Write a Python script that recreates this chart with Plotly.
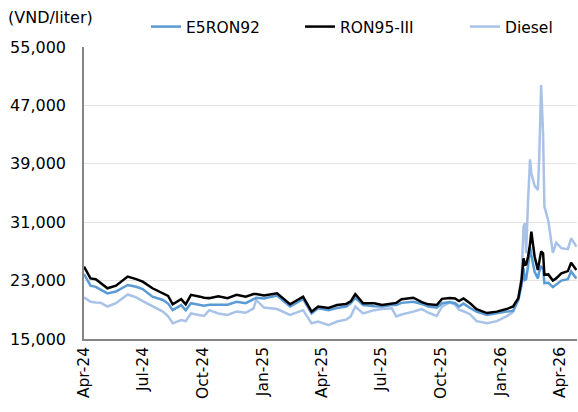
import plotly.graph_objects as go

dates = [
    "2024-04-01", "2024-04-11", "2024-04-19", "2024-04-27", "2024-05-07", "2024-05-20",
    "2024-06-07", "2024-06-20", "2024-06-30", "2024-07-15", "2024-07-31", "2024-08-08",
    "2024-08-15", "2024-08-28", "2024-09-04", "2024-09-12", "2024-09-26", "2024-10-02",
    "2024-10-10", "2024-10-24", "2024-11-07", "2024-11-21", "2024-12-05", "2024-12-17",
    "2024-12-21", "2025-01-02", "2025-01-22", "2025-02-11", "2025-03-03", "2025-03-16",
    "2025-03-26", "2025-04-11", "2025-04-24", "2025-05-08", "2025-05-15", "2025-05-22",
    "2025-06-03", "2025-06-20", "2025-07-02", "2025-07-17", "2025-07-24", "2025-08-01",
    "2025-08-19", "2025-09-01", "2025-09-11", "2025-09-24", "2025-10-02", "2025-10-14",
    "2025-10-22", "2025-10-28", "2025-11-04", "2025-11-14", "2025-11-24", "2025-12-10",
    "2025-12-25", "2026-01-09", "2026-01-19", "2026-01-27", "2026-02-01", "2026-02-04",
    "2026-02-06", "2026-02-08", "2026-02-11", "2026-02-14", "2026-02-16", "2026-02-21",
    "2026-02-26", "2026-02-28", "2026-03-03", "2026-03-06", "2026-03-08", "2026-03-14",
    "2026-03-21", "2026-03-26", "2026-04-03", "2026-04-13", "2026-04-18", "2026-04-26",
]

ron95 = [
    24900, 23300, 23200, 22650, 21950, 22300, 23550, 23200, 22850, 21950, 21300, 20900,
    19750, 20450, 19750, 21050, 20800, 20650, 20600, 20850, 20600, 21050, 20800, 21150,
    21150, 20950, 21250, 19750, 20800, 18750, 19450, 19250, 19650, 19800, 20150, 21150,
    19900, 19900, 19650, 19900, 19950, 20450, 20650, 20050, 19750, 19650, 20500, 20600,
    20550, 20200, 20550, 19900, 19100, 18550, 18750, 19100, 19450, 20600, 23100, 26050,
    25150, 25200, 26300, 28000, 29700, 26300, 24450, 25500, 27000, 26750, 23800, 23850,
    23000, 23300, 24000, 24300, 25450, 24450,
]

e5ron92 = [
    23900, 22300, 22150, 21750, 21250, 21500, 22400, 22150, 21850, 20800, 20350, 19850,
    18950, 19650, 18950, 19900, 19650, 19550, 19700, 19750, 19700, 20100, 19900, 20450,
    20650, 20550, 20950, 19450, 20450, 18500, 19200, 18950, 19250, 19450, 19900, 20650,
    19650, 19500, 19450, 19650, 19650, 19950, 20100, 19800, 19450, 19300, 19900, 20050,
    19900, 19450, 19850, 19250, 18750, 18300, 18550, 18750, 18850, 20300, 22400, 24700,
    23100, 23200, 25000, 27600, 26500, 24200, 23300, 24200, 24900, 24700, 22650, 22700,
    22100, 22400, 23000, 23200, 24250, 23300,
]

diesel = [
    20700, 20100, 20000, 19950, 19450, 19900, 21100, 20700, 20200, 19450, 18750, 18100,
    17150, 17600, 17450, 18500, 18200, 18150, 18950, 18500, 18300, 18750, 18600, 19200,
    20350, 19300, 19100, 18300, 18950, 17150, 17400, 16900, 17400, 17650, 18100, 19450,
    18500, 18950, 19100, 19200, 18100, 18350, 18750, 19100, 18600, 18150, 19450, 20000,
    19700, 19000, 18800, 18400, 17450, 17150, 17450, 18100, 18700, 20600, 23600, 30400,
    30850, 26750, 34000, 39600, 37700, 36000, 35400, 39600, 49800, 43000, 33150, 31200,
    26800, 28200, 27450, 27300, 28800, 27650,
]

series_names = ["E5RON92", "RON95-III", "Diesel"]
series_values = [e5ron92, ron95, diesel]
series_colors = ["#5B9BD5", "#000000", "#A9C2E8"]
legend_ids = ["legend", "legend2", "legend3"]

L, R, T, B = 84, 1, 47, 73
W, H = 578, 412
PW, PH = W - L - R, H - T - B

# legend box left edges in pixels
legend_px = [146, 300, 465]

y_ticks = [15000, 23000, 31000, 39000, 47000, 55000]
y_tick_text = ["15,000", "23,000", "31,000", "39,000", "47,000", "55,000"]

FONT = "DejaVu Sans"
FS = 16

fig = go.Figure()
order = [2, 0, 1]
for i in order:
    fig.add_trace(go.Scatter(
        x=dates, y=series_values[i], mode="lines", name=series_names[i],
        line=dict(color=series_colors[i], width=2.5),
        legend=legend_ids[i],
    ))

legend_common = dict(
    orientation="h", yanchor="middle", xanchor="left", y=1.0 + (T - 27) / PH,
    bgcolor="rgba(0,0,0,0)", font=dict(family=FONT, size=15.5, color="#000000"),
    itemwidth=30,
)
layout_legends = {}
for lid, lx in zip(legend_ids, legend_px):
    layout_legends[lid] = dict(legend_common, x=(lx - L) / PW)

fig.update_layout(
    width=W, height=H,
    margin=dict(l=L, r=R, t=T, b=B, pad=0, autoexpand=False),
    paper_bgcolor="white", plot_bgcolor="white",
    font=dict(family=FONT, size=FS, color="#000000"),
    showlegend=True,
    **layout_legends,
    xaxis=dict(
        type="date", range=["2024-04-01", "2026-04-27"], automargin=False,
        tickvals=["2024-04-01", "2024-07-01", "2024-10-01", "2025-01-01", "2025-04-01",
                  "2025-07-01", "2025-10-01", "2026-01-01", "2026-04-01"],
        tickformat="%b-%y", tickangle=-90,
        showgrid=False, zeroline=False,
        showline=True, linecolor="#868686", linewidth=1.5,
        ticks="", tickfont=dict(family=FONT, size=15.5, color="#000000"),
    ),
    yaxis=dict(
        range=[15000, 55000], tickvals=y_ticks, ticktext=y_tick_text, automargin=False,
        showgrid=True, gridcolor="#E3E3E3", gridwidth=1,
        zeroline=False, showline=True, linecolor="#868686", linewidth=1.5,
        ticks="", ticklabelstandoff=13,
        tickfont=dict(family=FONT, size=FS, color="#000000"),
    ),
    annotations=[dict(
        text="(VND/liter)", xref="paper", yref="paper",
        x=(6 - L) / PW, y=1.0 + (T - 18) / PH, xanchor="left", yanchor="middle",
        showarrow=False, font=dict(family=FONT, size=FS, color="#000000"),
    )],
)

fig.write_html(
    "out.html",
    config={"displayModeBar": False},
    post_script="document.body.style.margin='0';document.body.style.padding='0';",
)
